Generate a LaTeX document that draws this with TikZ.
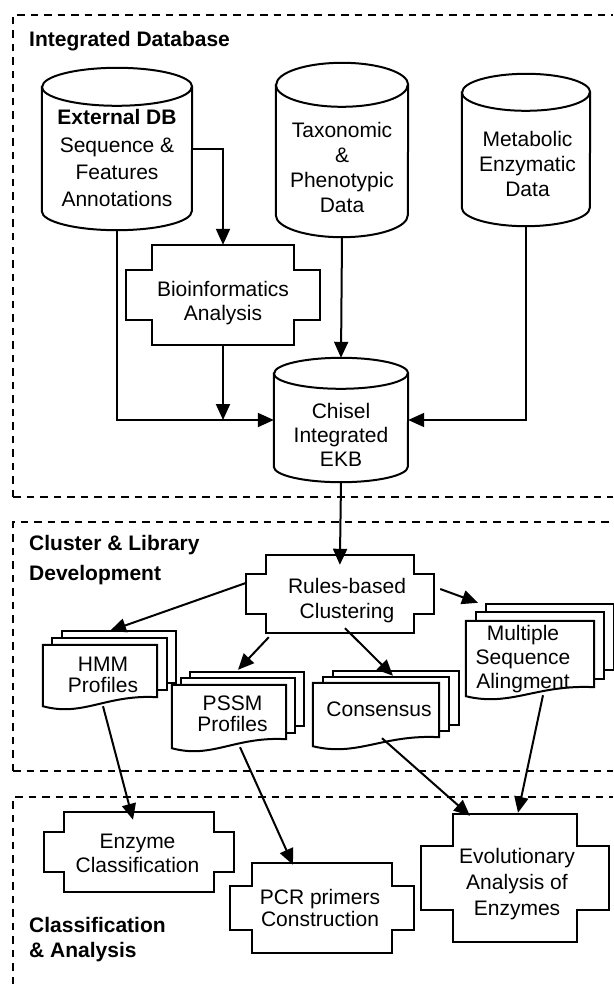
\documentclass[tikz,border=0pt]{standalone}
\usepackage{fontspec}
\setmainfont{Liberation Sans}
\usetikzlibrary{arrows.meta}
\pgfdeclarelayer{bg}
\pgfsetlayers{bg,main}
% cylinder outline: name, half width, ry
\newcommand\cylout[3]{%
  \draw[ln,fill=white] ([yshift=-#3]#1.north west) -- ([yshift=#3]#1.south west)
     arc[start angle=180,end angle=360,x radius=#2,y radius=#3] -- ([yshift=-#3]#1.north east)
     arc[start angle=0,end angle=180,x radius=#2,y radius=#3] -- cycle;
  \draw[ln] ([yshift=-#3]#1.north west) arc[start angle=180,end angle=360,x radius=#2,y radius=#3];}
% cross (notched) box outline: name, notch x, notch y
\newcommand\crossout[3]{%
  \draw[ln,fill=white] ([xshift=#2]#1.north west) -- ([xshift=-#2]#1.north east)
   -- ([xshift=-#2,yshift=-#3]#1.north east) -- ([yshift=-#3]#1.north east)
   -- ([yshift=#3]#1.south east) -- ([xshift=-#2,yshift=#3]#1.south east)
   -- ([xshift=-#2]#1.south east) -- ([xshift=#2]#1.south west)
   -- ([xshift=#2,yshift=#3]#1.south west) -- ([yshift=#3]#1.south west)
   -- ([yshift=-#3]#1.north west) -- ([xshift=#2,yshift=-#3]#1.north west) -- cycle;}
% stacked documents: name, width, dx, dy
\newcommand\docout[4]{%
  \draw[ln,fill=white] ([xshift=2*#3,yshift=2*#4]#1.north west) rectangle ([xshift=2*#3,yshift=2*#4]#1.south east);
  \draw[ln,fill=white] ([xshift=#3,yshift=#4]#1.north west) rectangle ([xshift=#3,yshift=#4]#1.south east);
  \draw[ln,fill=white] (#1.north west) -- (#1.north east) -- (#1.south east)
     .. controls ([xshift=-0.45*#2,yshift=3pt]#1.south east) and ([xshift=-0.65*#2,yshift=-20pt]#1.south east) ..
     ([yshift=-9pt]#1.south west) -- cycle;}
\begin{document}
\begin{tikzpicture}[x=1pt,y=-1pt,
  ln/.style={line width=2pt, line join=miter},
  sect/.style={line width=2pt, dash pattern=on 7.5pt off 6pt},
  arr/.style={line width=2pt, -{Triangle[length=16pt,width=14pt]}},
  shp/.style 2 args={inner sep=0pt, minimum width=#1, minimum height=#2},
  txt/.style={inner sep=0pt, align=center, font=\fontsize{21}{#1}\selectfont},
  seclbl/.style={inner sep=0pt, align=left, anchor=north west, font=\fontsize{21}{#1}\selectfont\bfseries}]
\useasboundingbox (0,0) rectangle (613,984);
% section frames
\draw[sect] (13,497) -- (13,15) -- (613,15);
\draw[sect] (13,497) -- (613,497);
\draw[sect] (13,771) -- (13,522) -- (613,522);
\draw[sect] (13,771) -- (613,771);
\draw[sect] (13,984) -- (13,797) -- (613,797);
% section labels
\node[seclbl=25] (lab1) at (29,30.7) {Integrated Database};
\node[seclbl=30] (lab2) at (29,534.7) {Cluster \& Library\\Development};
\node[seclbl=25] (lab3) at (29,916.7) {Classification\\\& Analysis};
% shape nodes
\node[shp={150pt}{162pt}] (ext) at (117,149) {};
\node[shp={132pt}{174pt}] (tax) at (342,150) {};
\node[shp={128pt}{152pt}] (meta) at (526,150) {};
\node[shp={134pt}{124pt}] (chisel) at (341,420) {};
\node[shp={194pt}{100pt}] (bio) at (223,295) {};
\node[shp={188pt}{78pt}] (rules) at (340,594) {};
\node[shp={114pt}{52pt}] (hmm) at (100,671) {};
\node[shp={114pt}{54pt}] (pssm) at (229,712) {};
\node[shp={126pt}{54pt}] (cons) at (376,710) {};
\node[shp={128pt}{66pt}] (msa) at (530,654) {};
\node[shp={190pt}{80pt}] (enz) at (139,852) {};
\node[shp={184pt}{90pt}] (pcr) at (322,908) {};
\node[shp={188pt}{128pt}] (evo) at (515,878) {};
% outlines
\begin{pgfonlayer}{bg}
\cylout{ext}{75pt}{19pt}
\cylout{tax}{66pt}{22pt}
\cylout{meta}{64pt}{18.5pt}
\cylout{chisel}{67pt}{15.5pt}
\crossout{bio}{26pt}{25pt}
\crossout{rules}{20pt}{19pt}
\crossout{enz}{20pt}{20pt}
\crossout{pcr}{22pt}{23pt}
\crossout{evo}{32pt}{32pt}
\docout{hmm}{114pt}{9.5pt}{7pt}
\docout{pssm}{114pt}{9pt}{6.5pt}
\docout{cons}{126pt}{10pt}{6pt}
\docout{msa}{128pt}{10pt}{8.5pt}
\end{pgfonlayer}
% texts
\node[txt=27.3] (ext-t) at (117,158.4) {\textbf{External DB}\\Sequence \&\\Features\\Annotations};
\node[txt=25] (tax-t) at (342,167) {Taxonomic\\\&\\Phenotypic\\Data};
\node[txt=25] (meta-t) at (527.5,164.4) {Metabolic\\Enzymatic\\Data};
\node[txt=24] (chisel-t) at (341,434.4) {Chisel\\Integrated\\EKB};
\node[txt=24.5] (bio-t) at (223,303) {Bioinformatics\\Analysis};
\node[txt=25] (rules-t) at (347,600.5) {Rules-based\\Clustering};
\node[txt=21] (hmm-t) at (103,675) {HMM\\Profiles};
\node[txt=21] (pssm-t) at (232.5,713.5) {PSSM\\Profiles};
\node[txt=21] (cons-t) at (379,709.5) {Consensus};
\node[txt=24] (msa-t) at (523,659) {Multiple\\Sequence\\Alingment};
\node[txt=24] (enz-t) at (137.5,853.5) {Enzyme\\Classification};
\node[txt=22] (pcr-t) at (320,908) {PCR primers\\Construction};
\node[txt=26] (evo-t) at (517,884.5) {Evolutionary\\Analysis of\\Enzymes};
% connectors
\draw[arr] (ext.east) -| (bio.north);
\draw[arr] (ext.south) |- (chisel.west);
\draw[arr] (bio.south) -- (bio.south |- chisel.west);
\draw[arr] (tax.south) -- (chisel.north);
\draw[arr] (meta.south) |- (chisel.east);
\draw[arr, shorten >=-10pt] (chisel.south) -- (rules.north);
\draw[arr] ([yshift=11pt]rules.west) -- ([xshift=10pt,yshift=14pt]hmm.north);
\draw[arr] ([xshift=23pt,yshift=-4pt]rules.south west) -- ([xshift=9pt,yshift=15pt]pssm.north);
\draw[arr] ([xshift=5pt,yshift=5pt]rules.south) -- ([xshift=17pt,yshift=7pt]cons.north);
\draw[arr] ([xshift=6pt,yshift=5pt]rules.east) -- ([xshift=-52pt,yshift=18pt]msa.north);
\draw[arr] ([xshift=3pt,yshift=-9pt]hmm.south) -- ([xshift=-6pt,yshift=-8pt]enz.north);
\draw[arr] ([xshift=11pt,yshift=-8pt]pssm.south) -- ([xshift=-29pt,yshift=-2pt]pcr.north);
\draw[arr] ([xshift=6pt,yshift=-1pt]cons.south) -- ([xshift=-45pt,yshift=-2pt]evo.north);
\draw[arr] ([xshift=13pt,yshift=-8pt]msa.south) -- ([xshift=3pt,yshift=1pt]evo.north);
\end{tikzpicture}
\end{document}
